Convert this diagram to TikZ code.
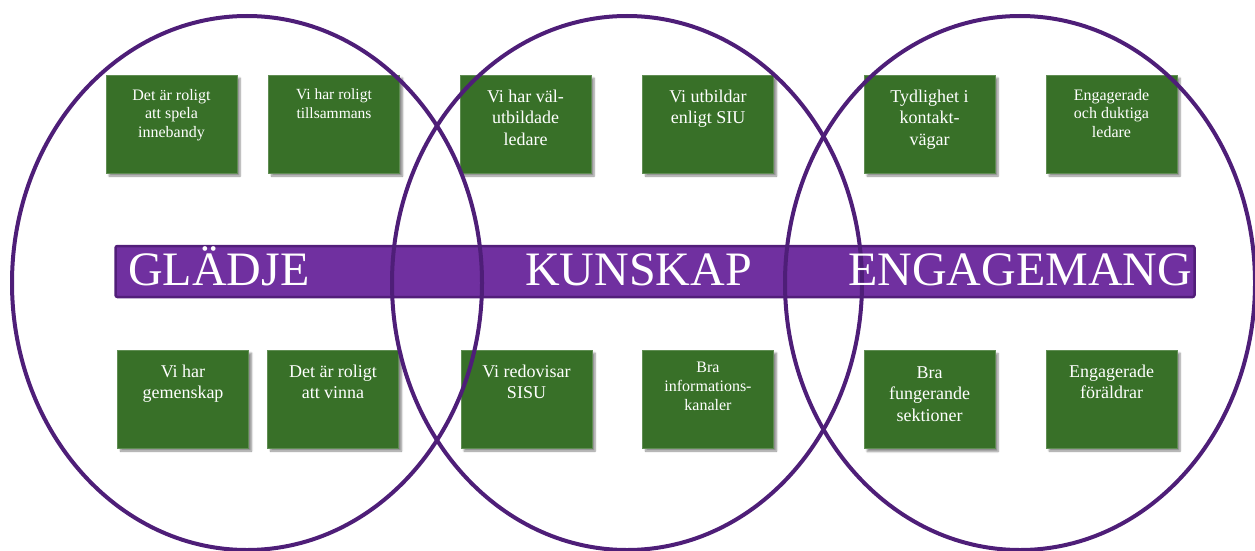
\documentclass[tikz,border=0pt]{standalone}
\usepackage{fontspec}
\setmainfont{Liberation Serif}
\usepackage{xcolor}
\usepackage{tikz}
\usetikzlibrary{positioning, shadows.blur}

\definecolor{ringpurple}{RGB}{78,30,120}
\definecolor{barpurple}{RGB}{112,48,160}
\definecolor{barborder}{RGB}{82,30,122}
\definecolor{cardgreen}{RGB}{56,112,40}

\begin{document}
\begin{tikzpicture}[
        x=1pt, y=-1pt,
        ring/.style={draw=ringpurple, line width=4pt},
        card/.style={fill=cardgreen, draw=cardgreen!80!white, line width=0.4pt,
            minimum width=131pt, minimum height=98pt, inner sep=0pt,
            blur shadow={shadow xshift=3pt, shadow yshift=-3pt, shadow blur steps=6, shadow opacity=45}},
        cardtext/.style={text=white, align=center, inner sep=0pt},
        big/.style={font=\fontsize{18}{21.5}\selectfont},
        small/.style={font=\fontsize{16}{18.5}\selectfont},
        bartext/.style={text=white, anchor=base west, inner sep=0pt, font=\fontsize{48}{50}\selectfont}
    ]
        \useasboundingbox (0,0) rectangle (1255,551);

        \coordinate (c1) at (247,283);
        \coordinate (c2) at (627,283);
        \coordinate (c3) at (1020,283);

        % the bar across
        \node[fill=barpurple, draw=barborder, line width=2.5pt, rounded corners=2pt,
            minimum width=1079pt, minimum height=51pt, inner sep=0pt] (bar) at (655,271.5) {};

        % top row
        \node[card] (g1) at (171.5,124) {};
        \node[card] (g2) at (334,124) {};
        \node[card] (k1) at (525.5,124) {};
        \node[card] (k2) at (708,124) {};
        \node[card] (e1) at (929.5,124) {};
        \node[card] (e2) at (1111.5,124) {};
        % bottom row
        \node[card] (g3) at (183,399) {};
        \node[card] (g4) at (333,399) {};
        \node[card] (k3) at (526.5,399) {};
        \node[card] (k4) at (708,399) {};
        \node[card] (e3) at (929.5,399.5) {};
        \node[card] (e4) at (1111.5,399) {};

        \node[cardtext, small, below=14pt of g1.north] (g1t) {Det är roligt\\att spela\\innebandy};
        \node[cardtext, below=14pt of g2.north, font=\fontsize{15.5}{19}\selectfont] (g2t) {Vi har roligt\\tillsammans};
        \node[cardtext, big, below=15pt of k1.north] (k1t) {Vi har väl-\\utbildade\\ledare};
        \node[cardtext, big, below=15pt of k2.north] (k2t) {Vi utbildar\\enligt SIU};
        \node[cardtext, big, below=15pt of e1.north] (e1t) {Tydlighet i\\kontakt-\\vägar};
        \node[cardtext, small, below=14pt of e2.north] (e2t) {Engagerade\\och duktiga\\ledare};

        \node[cardtext, big, below=15pt of g3.north] (g3t) {Vi har\\gemenskap};
        \node[cardtext, big, below=15pt of g4.north] (g4t) {Det är roligt\\att vinna};
        \node[cardtext, big, below=15pt of k3.north] (k3t) {Vi redovisar\\SISU};
        \node[cardtext, font=\fontsize{16}{19}\selectfont, below=12pt of k4.north] (k4t) {Bra\\informations-\\kanaler};
        \node[cardtext, big, below=16pt of e3.north] (e3t) {Bra\\fungerande\\sektioner};
        \node[cardtext, big, below=15pt of e4.north] (e4t) {Engagerade\\föräldrar};

        % the three rings
        \draw[ring] (c1) ellipse [x radius=235pt, y radius=267pt];
        \draw[ring] (c2) ellipse [x radius=235pt, y radius=267pt];
        \draw[ring] (c3) ellipse [x radius=235pt, y radius=267pt];

        \node[bartext] (glad) at (128,285) {GLÄDJE};
        \node[bartext] (kunskap) at (525,285) {KUNSKAP};
        \node[bartext] (engag) at (848,285) {ENGAGEMANG};

    \end{tikzpicture}
\end{document}
